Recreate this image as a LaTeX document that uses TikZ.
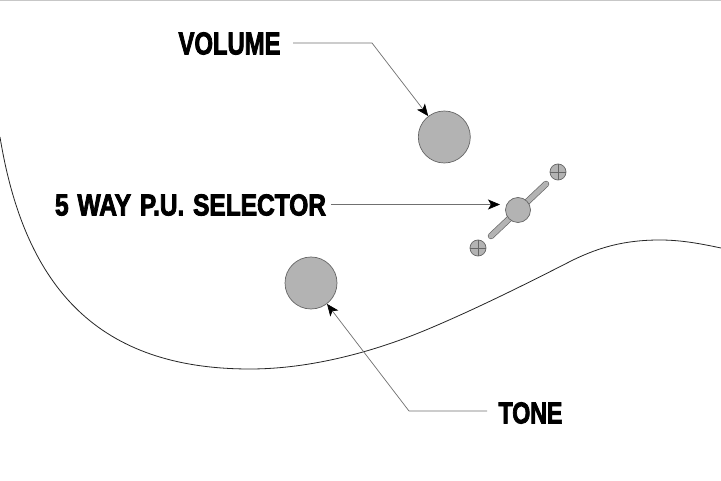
\documentclass[tikz,border=0pt]{standalone}
\usepackage{fontspec}
\setmainfont{Liberation Sans}
\newfontfamily\labfont{Liberation Sans Bold}[FakeBold=3,LetterSpace=-0.4,WordSpace=1.3]
\usetikzlibrary{arrows.meta}
\definecolor{knob}{HTML}{B3B3B3}
\definecolor{rim}{HTML}{666666}
\definecolor{leader}{HTML}{707070}
\tikzset{
  knobc/.style={circle,draw=rim,fill=knob,line width=0.7pt,inner sep=0pt,minimum size=#1},
  lab/.style={inner sep=0pt,outer sep=0pt},
  leaderl/.style={draw=leader,line width=0.7pt,-{Stealth[length=12pt,width=10pt,inset=3pt,black]}},
  screwl/.style={draw=rim,line width=0.5pt},
  edge/.style={draw=black!85,line width=0.8pt}
}
\newcommand{\labeltext}[3]{\resizebox{#1pt}{#2pt}{\fontsize{20pt}{20pt}\labfont #3}}
\begin{document}
\begin{tikzpicture}[x=1pt,y=-1pt]
\useasboundingbox (0,0) rectangle (721,481);
\fill[white] (0,0) rectangle (721,481);
\draw[black!22,line width=1.2pt] (0,0.4) -- (721,0.4);
% body outline
\draw[edge] (0,137) .. controls (25,290) and (100,369) .. (250,369)
  .. controls (310,369) and (375,352) .. (433,327)
  .. controls (480,307) and (530,282) .. (573,260)
  .. controls (600,247) and (625,240) .. (660,240)
  .. controls (682,240) and (702,244) .. (721,248);
% slot
\draw[rim,line width=6.4pt,line cap=round] (491,236) -- (546,184);
\draw[knob,line width=5pt,line cap=round] (491,236) -- (546,184);
% knobs
\node[knobc=52pt] (volk) at (444.3,137) {};
\node[knobc=52pt] (tonek) at (311,283) {};
\node[knobc=25pt] (selk) at (518,210) {};
\node[knobc=16pt] (screwa) at (558,172) {};
\node[knobc=16pt] (screwb) at (478,248) {};
\draw[screwl] (screwa.west) -- (screwa.east) (screwa.north) -- (screwa.south);
\draw[screwl] (screwb.west) -- (screwb.east) (screwb.north) -- (screwb.south);
% labels
\node[lab] (vol) at (229.5,43.5) {\labeltext{102}{22}{VOLUME}};
\node[lab] (sel) at (190.5,205) {\labeltext{271}{21}{5 WAY P.U. SELECTOR}};
\node[lab] (ton) at (530.5,413) {\labeltext{64}{21}{TONE}};
\coordinate (vols) at (293,43);
\coordinate (volb) at (372,43);
\coordinate (sels) at (331,204.5);
\coordinate (selt) at (500,204.5);
\coordinate (tons) at (487,411);
\coordinate (tonb) at (409,411);
% leaders
\draw[leaderl] (vols) -- (volb) -- (volk);
\draw[leaderl] (sels) -- (selt);
\draw[leaderl] (tons) -- (tonb) -- (tonek);
\end{tikzpicture}
\end{document}
